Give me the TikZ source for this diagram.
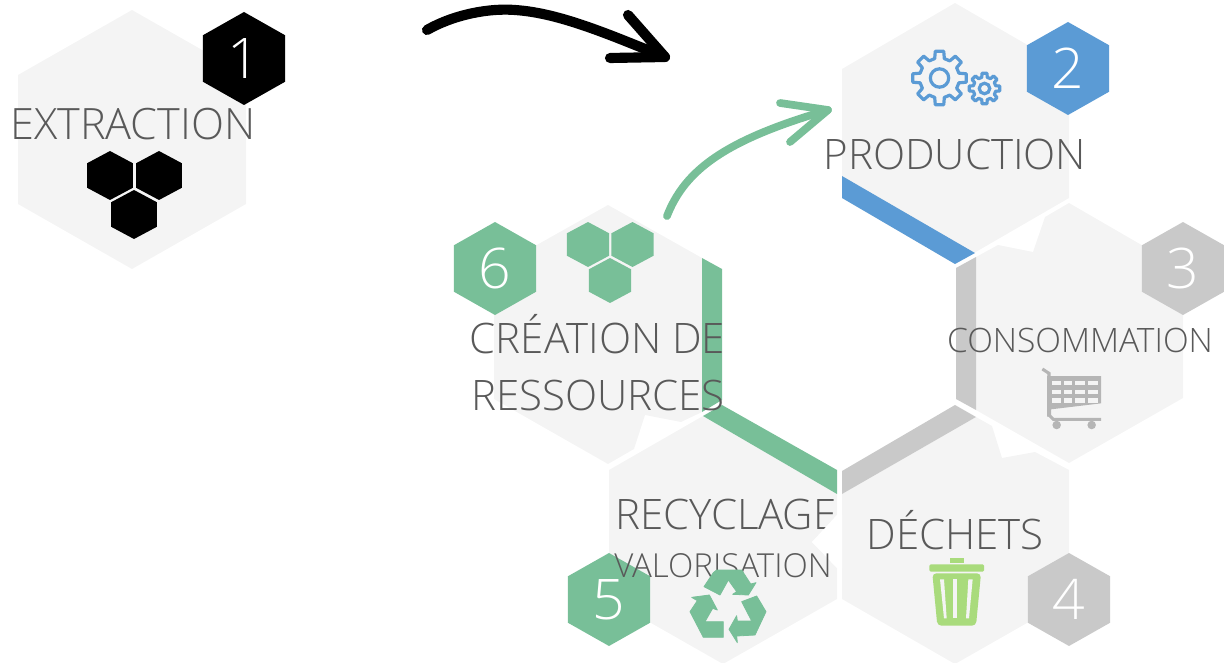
\documentclass[tikz,border=0pt]{standalone}
\usepackage{fontspec}
\setmainfont{Open Sans Light}
\usetikzlibrary{calc, arrows.meta, positioning, shapes.geometric}
\definecolor{hexpale}{HTML}{F4F4F4}
\definecolor{txtgrey}{HTML}{595959}
\definecolor{bluec}{HTML}{5B9BD5}
\definecolor{greyc}{HTML}{C9C9C9}
\definecolor{cartc}{HTML}{B5B5B5}
\definecolor{greenc}{HTML}{78BF98}
\definecolor{limec}{HTML}{A9DB7C}
\tikzset{
  badge/.style={regular polygon, regular polygon sides=6, shape border rotate=30, minimum size=69.75pt, inner sep=0pt, fill=#1, text=white, xscale=1.02, transform shape, font=\fontsize{42}{42}\selectfont},
  cell/.style={regular polygon, regular polygon sides=6, shape border rotate=30, minimum size=33.75pt, inner sep=0pt, fill=#1, xscale=1.08, transform shape},
  big/.style={text=txtgrey, inner sep=0pt, align=center, font=\fontsize{31.5}{31.5}\selectfont},
  small/.style={text=txtgrey, inner sep=0pt, align=center, font=\fontsize{#1}{#1}\selectfont},
  brush/.style={draw=#1, line width=7.6pt, line cap=round, line join=round},
  gear/.pic={
    \draw[bluec, line width=2.4pt, line join=round]
      (-9:#1) \foreach \a in {0,45,...,315} { -- (\a-9:#1) -- (\a+9:#1) -- (\a+14:0.74*#1) -- (\a+31:0.74*#1) } -- cycle;
    \draw[bluec, line width=2.4pt] (0,0) circle ({0.34*#1});
  }
}
\begin{document}
\begin{tikzpicture}[x=0.75pt, y=-0.75pt]
\useasboundingbox (0,0) rectangle (1224,663);

% Hexagons
\fill[hexpale] (132,10) -- (246,75) -- (246,204) -- (132,269) -- (18,204) -- (18,75) -- cycle;
\fill[hexpale] (955,3) -- (1069,69) -- (1069,198) -- (955,264) -- (842,198) -- (842,69) -- cycle;
\fill[hexpale] (976,257) -- (998,245) -- (1033,252) -- (1045,217) -- (1069,203) -- (1183,269) -- (1183,398) -- (1069,463) -- (976,410) -- cycle;
\fill[hexpale] (842,494) -- (976,417) -- (992,426) -- (1002,458) -- (1035,452) -- (1069,470) -- (1069,599) -- (955,664) -- (842,599) -- cycle;
\fill[hexpale] (609,470) -- (703,416) -- (837,494) -- (837,515) -- (812,542) -- (837,568) -- (837,599) -- (723,664) -- (609,599) -- cycle;
\fill[hexpale] (608,205) -- (702,258) -- (702,412) -- (681,422) -- (645,415) -- (634,449) -- (608,464) -- (494,399) -- (494,269) -- cycle;

% Strips
\fill[bluec] (842,176) -- (975,253) -- (955,264) -- (842,198) -- cycle;
\fill[greyc] (956,268) -- (976,257) -- (976,410) -- (956,399) -- cycle;
\fill[greyc] (842,471) -- (955,405) -- (976,417) -- (842,494) -- cycle;
\fill[greenc] (703,416) -- (722,405) -- (837,470) -- (837,494) -- cycle;
\fill[greenc] (702,258) -- (722,269) -- (722,400) -- (702,412) -- cycle;

% Badges
\node[badge=black] (one) at (244,58.5) {1};
\node[badge=bluec] (two) at (1068,68.5) {2};
\node[badge=greyc] (three) at (1183,268.5) {3};
\node[badge=greyc] (four) at (1069,599.5) {4};
\node[badge=greenc] (five) at (609,599.5) {5};
\node[badge=greenc] (six) at (495,268.5) {6};

% Cells
\node[cell=black, minimum size=36.75pt] (ca) at (110,175.5) {};
\node[cell=black, minimum size=36.75pt] (cb) at (159,175.5) {};
\node[cell=black, minimum size=36.75pt] (cc) at (134,214.5) {};
\node[cell=greenc] (cd) at (588,244.5) {};
\node[cell=greenc] (ce) at (632.5,244.5) {};
\node[cell=greenc] (cf) at (610,280.5) {};

% Labels
\node[small=32.4] (extraction) at (133,124) {EXTRACTION};
\node[big] (production) at (955,154) {PRODUCTION};
\node[small=25.2] (consommation) at (1080,340) {CONSOMMATION};
\node[big] (dechets) at (955,530) {DÉCHETS};
\node[big] (recyclage) at (726,514) {RECYCLAGE};
\fill[white] (837,515) -- (812,542) -- (837,568) -- (842,568) -- (842,515) -- cycle;
\node[small=24.8] (valorisation) at (723,566) {VALORISATION};
\node[big] (creation) at (597.5,334.5) {CRÉATION DE};
\node[big] (ressources) at (598,395) {RESSOURCES};

% Icons
\pic at (939.5,78) {gear=27};
\pic at (984.5,88.5) {gear=15.5};

% recycle
\begin{scope}[shift={(680,560)}, x=0.25pt, y=-0.25pt, line join=round]
\filldraw[greenc, line width=0.6pt] (72,80) -- (100,38) -- (110,30) -- (185,30) -- (212,72) -- (228,68) -- (205,105) -- (158,103) -- (170,95) -- (145,60) -- (120,105) -- cycle;
\filldraw[greenc, line width=0.6pt] (35,112) -- (88,105) -- (112,150) -- (98,145) -- (75,185) -- (130,185) -- (130,232) -- (70,232) -- (30,155) -- (52,122) -- cycle;
\filldraw[greenc, line width=0.6pt] (185,125) -- (230,108) -- (258,155) -- (225,225) -- (170,228) -- (172,248) -- (147,208) -- (170,167) -- (172,183) -- (215,183) -- cycle;
\end{scope}

% bin
\begin{scope}[shift={(920,550)}, x=0.25pt, y=-0.25pt]
\fill[limec, rounded corners=1pt] (28,43) rectangle (192,65);
\fill[limec] (90,25) rectangle (132,38);
\fill[limec, rounded corners=3pt] (37,70) -- (183,70) -- (168,227) -- (52,227) -- cycle;
\fill[hexpale] (60,88) -- (72,88) -- (80,205) -- (72,205) -- cycle;
\fill[hexpale] (100,88) -- (112,88) -- (112,205) -- (100,205) -- cycle;
\fill[hexpale] (145,88) -- (158,88) -- (147,205) -- (138,205) -- cycle;
\end{scope}

% cart
\begin{scope}[shift={(1035,360)}, x=0.25pt, y=-0.25pt]
\fill[cartc] (36,48) -- (198,48) -- (198,130) -- (48,148) -- (48,170) -- (36,170) -- cycle;
\draw[cartc, line width=2.3pt] (22,27) -- (42,40) -- (42,165) -- (55,178) -- (198,178);
\foreach \cx/\cw in {50/28, 88/24, 120/30, 158/30} {
  \foreach \cy in {62, 90, 115} {
    \fill[hexpale] (\cx,\cy) rectangle ++(\cw,13);
  }
}
\fill[cartc] (65,195) circle (3.2pt);
\fill[cartc] (170,195) circle (3.2pt);
\end{scope}

% Arrows
\coordinate (blacka) at (427,30);
\coordinate (blackb) at (665,57);
\coordinate (greena) at (667,216);
\coordinate (greenb) at (828,110);
\draw[brush=black] (blacka) .. controls (455,14) and (490,8) .. (515,10) .. controls (560,13) and (610,35) .. (blackb);
\draw[brush=black] (628,15) -- (blackb) -- (610,58);
\draw[brush=greenc, line width=5.8pt] (greena) .. controls (685,170) and (725,140) .. (greenb);
\draw[brush=greenc, line width=5.8pt] (780,103) -- (greenb) -- (790,142);
\end{tikzpicture}
\end{document}
